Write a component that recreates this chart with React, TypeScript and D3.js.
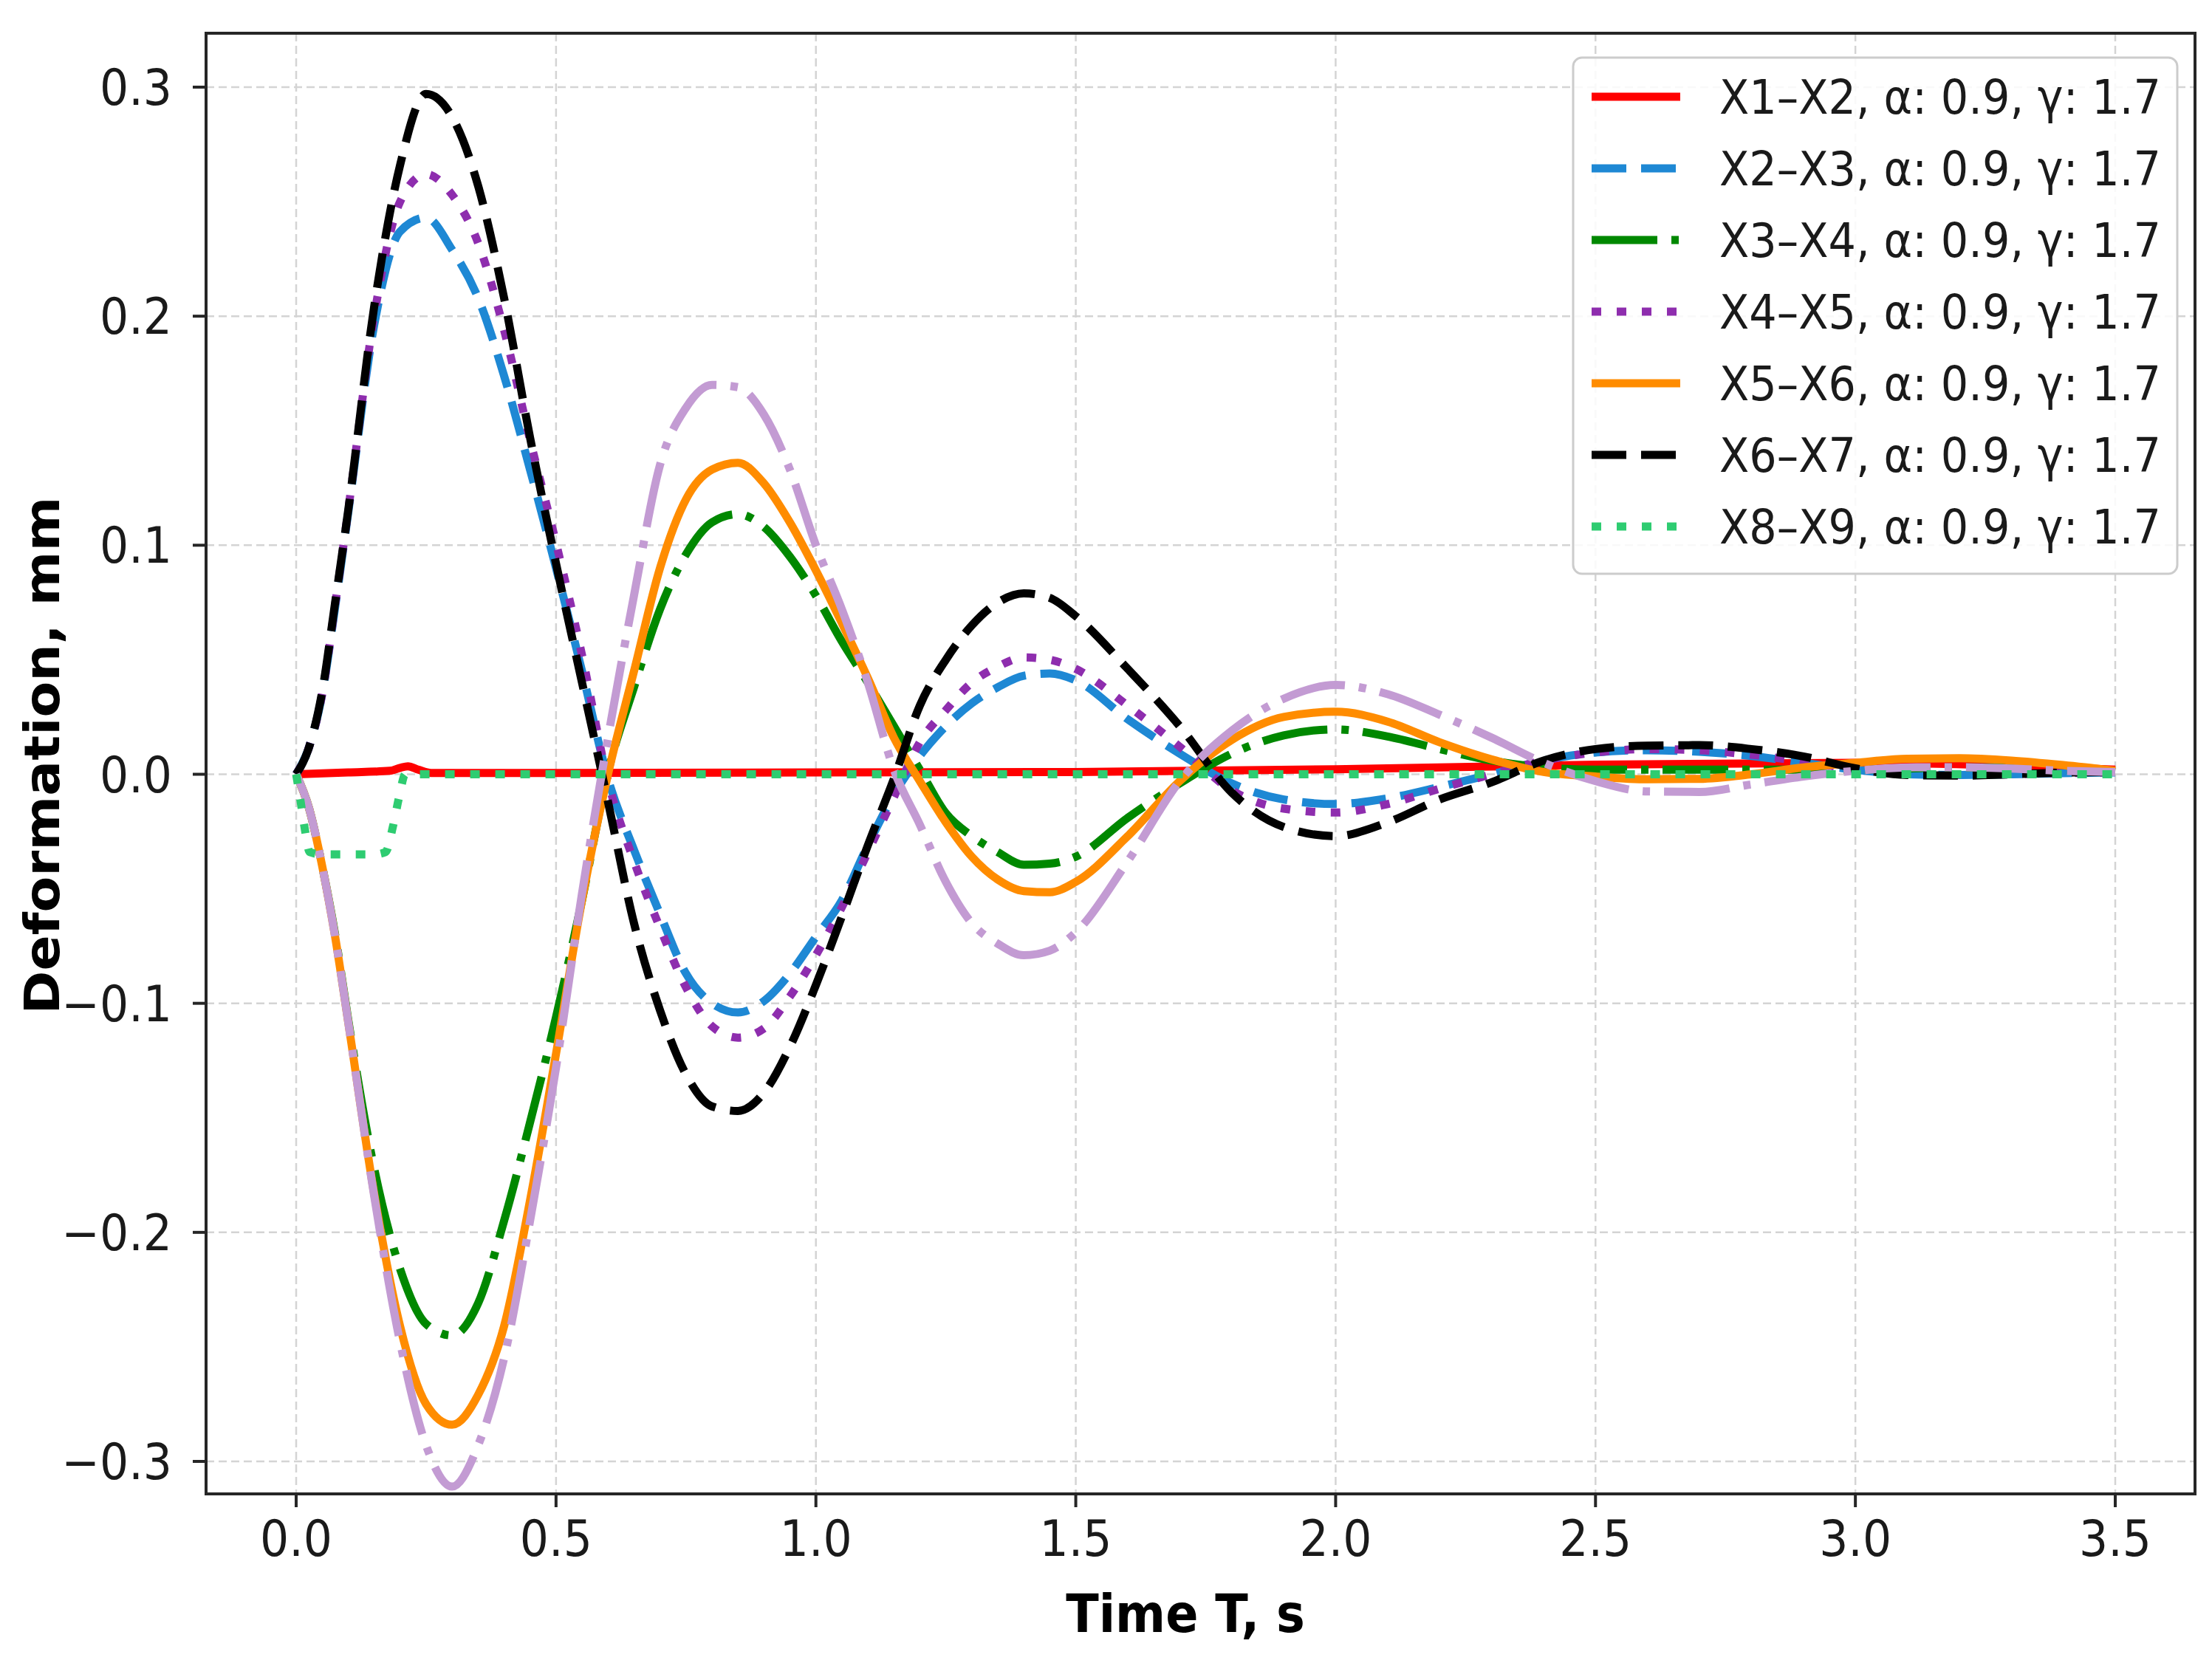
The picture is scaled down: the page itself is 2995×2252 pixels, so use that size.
import React from 'react';
import * as d3 from 'd3';

// ---------- data ----------
const T_MAIN = [
  0, 0.025, 0.05, 0.075, 0.1, 0.15, 0.2, 0.25, 0.3, 0.35, 0.4, 0.45, 0.5, 0.55, 0.6, 0.65, 0.7, 0.75,
  0.8, 0.85, 0.9, 0.95, 1.0, 1.05, 1.1, 1.15, 1.2, 1.25, 1.3, 1.35, 1.4, 1.45, 1.5,
  1.6, 1.7, 1.8, 1.9, 2.0, 2.1, 2.2, 2.3, 2.4, 2.5, 2.6, 2.7, 2.8, 2.9, 3.0, 3.1, 3.2, 3.3, 3.4, 3.5,
];

const X2X3 = [
  0, 0.012, 0.035, 0.073, 0.114, 0.196, 0.237, 0.243, 0.229, 0.208, 0.174, 0.133, 0.09, 0.045, -0.002, -0.033, -0.061, -0.087,
  -0.1, -0.104, -0.099, -0.087, -0.071, -0.055, -0.031, -0.009, 0.008, 0.021, 0.031, 0.038, 0.043, 0.044, 0.041,
  0.024, 0.009, -0.004, -0.011, -0.013, -0.0105, -0.0055, 0.0, 0.006, 0.0095, 0.0105, 0.0098, 0.008, 0.005, 0.002, 0.0, -0.0003, 0.0, 0.0005, 0.0008,
];

const X3X4 = [
  0, -0.015, -0.04, -0.07, -0.107, -0.172, -0.216, -0.24, -0.245, -0.231, -0.195, -0.152, -0.106, -0.055, 0.001, 0.038, 0.072, 0.096,
  0.11, 0.1136, 0.108, 0.095, 0.078, 0.058, 0.04, 0.021, 0.002, -0.017, -0.027, -0.034, -0.0395, -0.039, -0.036,
  -0.019, -0.004, 0.009, 0.017, 0.0196, 0.0165, 0.011, 0.006, 0.003, 0.002, 0.002, 0.002, 0.002, 0.002, 0.002, 0.0025, 0.003, 0.003, 0.002, 0.001,
];

const X4X5 = [
  0, 0.012, 0.035, 0.074, 0.115, 0.2, 0.25, 0.262, 0.253, 0.232, 0.194, 0.146, 0.101, 0.052, -0.003, -0.038, -0.067, -0.093,
  -0.11, -0.115, -0.111, -0.097, -0.079, -0.058, -0.034, -0.01, 0.014, 0.028, 0.04, 0.047, 0.051, 0.05, 0.046,
  0.03, 0.012, -0.007, -0.015, -0.0167, -0.013, -0.0063, 0.0, 0.006, 0.0095, 0.011, 0.0105, 0.0085, 0.0055, 0.0022, 0.0, -0.0003, 0.0, 0.0005, 0.0008,
];

const X5X6 = [
  0, -0.015, -0.04, -0.071, -0.108, -0.183, -0.241, -0.275, -0.284, -0.271, -0.241, -0.186, -0.122, -0.055, 0.0, 0.045, 0.09, 0.12,
  0.133, 0.136, 0.127, 0.11, 0.089, 0.066, 0.042, 0.016, -0.003, -0.021, -0.036, -0.046, -0.051, -0.0515, -0.047,
  -0.027, -0.003, 0.015, 0.025, 0.0273, 0.023, 0.014, 0.0065, 0.001, -0.001, -0.0022, -0.002, 0.0, 0.003, 0.005, 0.0068, 0.007, 0.006, 0.004, 0.0015,
];

const X6X7 = [
  0, 0.012, 0.036, 0.075, 0.115, 0.204, 0.266, 0.297, 0.287, 0.257, 0.208, 0.147, 0.092, 0.04, -0.012, -0.065, -0.103, -0.131,
  -0.145, -0.147, -0.139, -0.119, -0.092, -0.062, -0.031, -0.002, 0.03, 0.05, 0.065, 0.075, 0.079, 0.077, 0.069,
  0.046, 0.021, -0.008, -0.023, -0.027, -0.021, -0.011, -0.0035, 0.006, 0.011, 0.0125, 0.0127, 0.011, 0.0078, 0.0026, -0.0003, -0.0006, 0.0, 0.0007, 0.001,
];

const X7X8 = [
  0, -0.015, -0.04, -0.071, -0.108, -0.184, -0.248, -0.293, -0.311, -0.293, -0.255, -0.195, -0.128, -0.052, 0.016, 0.078, 0.135, 0.16,
  0.17, 0.169, 0.157, 0.133, 0.1, 0.072, 0.04, 0.002, -0.022, -0.047, -0.065, -0.074, -0.079, -0.077, -0.069,
  -0.038, -0.003, 0.019, 0.033, 0.039, 0.035, 0.026, 0.016, 0.005, -0.003, -0.0075, -0.0077, -0.0044, -0.001, 0.0015, 0.003, 0.0031, 0.0025, 0.0015, 0.001,
];

const T_X1X2 = [0, 0.1, 0.18, 0.2, 0.215, 0.235, 0.26, 0.5, 1.0, 1.5, 2.0, 2.5, 3.0, 3.5];
const X1X2 = [0, 0.0008, 0.0015, 0.0028, 0.0035, 0.002, 0.0006, 0.0006, 0.0008, 0.001, 0.0022, 0.0042, 0.005, 0.002];

const T_X8X9 = [0, 0.008, 0.016, 0.026, 0.05, 0.1, 0.15, 0.172, 0.186, 0.198, 0.21, 0.5, 1.0, 2.0, 3.0, 3.5];
const X8X9 = [0, -0.011, -0.023, -0.034, -0.035, -0.035, -0.035, -0.034, -0.023, -0.01, 0, 0, 0, 0, 0, 0];

const X_TICKS = [0, 0.5, 1.0, 1.5, 2.0, 2.5, 3.0, 3.5];
const Y_TICKS = [-0.3, -0.2, -0.1, 0.0, 0.1, 0.2, 0.3];

const LEGEND_LABELS = [
  'X1–X2, α: 0.9, γ: 1.7',
  'X2–X3, α: 0.9, γ: 1.7',
  'X3–X4, α: 0.9, γ: 1.7',
  'X4–X5, α: 0.9, γ: 1.7',
  'X5–X6, α: 0.9, γ: 1.7',
  'X6–X7, α: 0.9, γ: 1.7',
  'X8–X9, α: 0.9, γ: 1.7',
];

const X_LABEL = 'Time T, s';
const Y_LABEL = 'Deformation, mm';

// ---------- styles ----------
const DASH = '47,20';
const DASHDOT = '89,19,10,19';
const DOT = '13,21';

type Series = {
  t: number[];
  v: number[];
  color: string;
  dash: string | null;
  legend: number | null;
};

const SERIES: Series[] = [
  { t: T_X1X2, v: X1X2, color: '#ff0000', dash: null, legend: 0 },
  { t: T_MAIN, v: X2X3, color: '#1e88d4', dash: DASH, legend: 1 },
  { t: T_MAIN, v: X3X4, color: '#008800', dash: DASHDOT, legend: 2 },
  { t: T_MAIN, v: X4X5, color: '#8e2dae', dash: DOT, legend: 3 },
  { t: T_MAIN, v: X5X6, color: '#ff8c00', dash: null, legend: 4 },
  { t: T_MAIN, v: X6X7, color: '#000000', dash: DASH, legend: 5 },
  { t: T_MAIN, v: X7X8, color: '#c39bd3', dash: DASHDOT, legend: null },
  { t: T_X8X9, v: X8X9, color: '#2ecc71', dash: DOT, legend: 6 },
];

const W = 2995;
const H = 2252;
const L = 279;
const R = 2972;
const TOP = 45;
const BOT = 2023;
const SQ = 0.92;
const LW = 11;
const FONT = "'DejaVu Sans', 'Liberation Sans', sans-serif";

export default function App() {
  const x = d3.scaleLinear().domain([0, 3.5]).range([401, 2864]);
  const y = d3.scaleLinear().domain([-0.3, 0.3]).range([1979, 118]);
  const fmt = d3.format('.1f');

  const paths = SERIES.map((s) => {
    const idx = d3.range(s.t.length);
    const gen = d3
      .line<number>()
      .x((i) => x(s.t[i]))
      .y((i) => y(s.v[i]))
      .curve(d3.curveMonotoneX);
    return gen(idx) || '';
  });

  const legX = 2130;
  const legY = 78;
  const legW = 818;
  const legH = 699;
  const rowY0 = 131;
  const rowStep = 97;
  const handleX0 = 2155;
  const handleX1 = 2275;
  const textX = 2328;

  const legendItems = SERIES.filter((s) => s.legend !== null).sort(
    (a, b) => (a.legend as number) - (b.legend as number)
  );

  return (
    <svg
      width={W}
      height={H}
      viewBox={`0 0 ${W} ${H}`}
      style={{ position: 'absolute', left: 0, top: 0, background: '#ffffff' }}
      fontFamily={FONT}
    >
      <defs>
        <clipPath id="plotclip">
          <rect x={L} y={TOP} width={R - L} height={BOT - TOP} />
        </clipPath>
      </defs>
      <rect x={0} y={0} width={W} height={H} fill="#ffffff" />

      {/* grid */}
      <g stroke="#d4d4d4" strokeWidth={2.5} strokeDasharray="11,6" fill="none">
        {X_TICKS.map((t) => (
          <line key={'gx' + t} x1={x(t)} x2={x(t)} y1={TOP} y2={BOT} />
        ))}
        {Y_TICKS.map((v) => (
          <line key={'gy' + v} x1={L} x2={R} y1={y(v)} y2={y(v)} />
        ))}
      </g>

      {/* series */}
      <g clipPath="url(#plotclip)" fill="none">
        {SERIES.map((s, i) => (
          <path
            key={'s' + i}
            d={paths[i]}
            stroke={s.color}
            strokeWidth={LW}
            strokeDasharray={s.dash || undefined}
            strokeLinecap="butt"
            strokeLinejoin="round"
          />
        ))}
      </g>

      {/* spines */}
      <rect x={L} y={TOP} width={R - L} height={BOT - TOP} fill="none" stroke="#262626" strokeWidth={4} />

      {/* ticks */}
      <g stroke="#262626" strokeWidth={4}>
        {X_TICKS.map((t) => (
          <line key={'tx' + t} x1={x(t)} x2={x(t)} y1={BOT} y2={BOT + 18} />
        ))}
        {Y_TICKS.map((v) => (
          <line key={'ty' + v} x1={L - 18} x2={L} y1={y(v)} y2={y(v)} />
        ))}
      </g>

      {/* tick labels */}
      <g fill="#1a1a1a" fontSize={67}>
        {X_TICKS.map((t) => (
          <text key={'lx' + t} transform={`translate(${x(t)},2107) scale(${SQ},1)`} textAnchor="middle">
            {fmt(t)}
          </text>
        ))}
        {Y_TICKS.map((v) => (
          <text key={'ly' + v} transform={`translate(233,${y(v) + 24}) scale(${SQ},1)`} textAnchor="end">
            {fmt(v)}
          </text>
        ))}
      </g>

      {/* axis labels */}
      <text
        transform={`translate(1605,2210) scale(${SQ},1)`}
        textAnchor="middle"
        fontSize={71}
        fontWeight="bold"
        fill="#000"
      >
        {X_LABEL}
      </text>
      <text
        transform={`translate(80,1023) scale(${SQ},1) rotate(-90)`}
        textAnchor="middle"
        fontSize={71}
        fontWeight="bold"
        fill="#000"
      >
        {Y_LABEL}
      </text>

      {/* legend */}
      <rect
        x={legX}
        y={legY}
        width={legW}
        height={legH}
        rx={12}
        ry={12}
        fill="#ffffff"
        fillOpacity={0.85}
        stroke="#cccccc"
        strokeWidth={3}
      />
      {legendItems.map((s, k) => {
        const cy = rowY0 + k * rowStep;
        return (
          <g key={'lg' + k}>
            <line
              x1={handleX0}
              x2={handleX1}
              y1={cy}
              y2={cy}
              stroke={s.color}
              strokeWidth={LW}
              strokeDasharray={s.dash || undefined}
              strokeLinecap="butt"
            />
            <text transform={`translate(${textX},${cy + 23}) scale(${SQ},1)`} fontSize={64} fill="#1a1a1a">
              {LEGEND_LABELS[s.legend as number]}
            </text>
          </g>
        );
      })}
    </svg>
  );
}
